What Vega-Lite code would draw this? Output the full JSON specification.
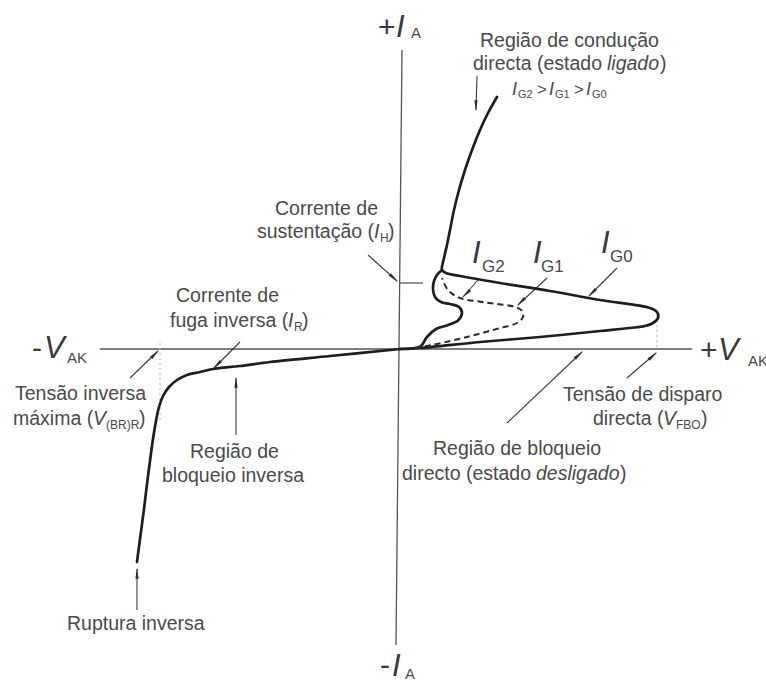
{
  "$schema": "https://vega.github.io/schema/vega-lite/v6.json",
  "width": 766,
  "height": 681,
  "padding": 0,
  "autosize": {"type": "none"},
  "background": "white",
  "config": {"view": {"stroke": null}},
  "datasets": {
    "axes": [
      {"name": "V_AK", "v": -300, "i": 0, "v2": 292, "i2": 0},
      {"name": "I_A", "v": 2, "i": 299, "v2": -4, "i2": -296}
    ],
    "guides": [
      {"name": "V(BR)R", "v": -240, "i": 6, "v2": -240, "i2": -71},
      {"name": "VFBO", "v": 257, "i": 39, "v2": 257, "i2": 0}
    ],
    "curves": [
      {"curve": "reverse", "k": 0, "v": 0, "i": 0},
      {"curve": "reverse", "k": 1, "v": -70, "i": -7},
      {"curve": "reverse", "k": 2, "v": -130, "i": -13},
      {"curve": "reverse", "k": 3, "v": -160, "i": -17},
      {"curve": "reverse", "k": 4, "v": -187, "i": -20},
      {"curve": "reverse", "k": 5, "v": -200, "i": -23},
      {"curve": "reverse", "k": 6, "v": -213, "i": -26},
      {"curve": "reverse", "k": 7, "v": -223, "i": -31},
      {"curve": "reverse", "k": 8, "v": -231, "i": -38},
      {"curve": "reverse", "k": 9, "v": -237, "i": -47},
      {"curve": "reverse", "k": 10, "v": -241, "i": -58},
      {"curve": "reverse", "k": 11, "v": -244, "i": -72},
      {"curve": "reverse", "k": 12, "v": -247, "i": -90},
      {"curve": "reverse", "k": 13, "v": -250, "i": -112},
      {"curve": "reverse", "k": 14, "v": -253, "i": -135},
      {"curve": "reverse", "k": 15, "v": -256, "i": -160},
      {"curve": "reverse", "k": 16, "v": -260, "i": -190},
      {"curve": "reverse", "k": 17, "v": -263, "i": -213},

      {"curve": "IG0", "k": 0, "v": 0, "i": 0},
      {"curve": "IG0", "k": 1, "v": 20, "i": 1},
      {"curve": "IG0", "k": 2, "v": 80, "i": 7},
      {"curve": "IG0", "k": 3, "v": 140, "i": 12},
      {"curve": "IG0", "k": 4, "v": 200, "i": 18},
      {"curve": "IG0", "k": 5, "v": 230, "i": 21},
      {"curve": "IG0", "k": 6, "v": 245, "i": 23},
      {"curve": "IG0", "k": 7, "v": 253, "i": 26},
      {"curve": "IG0", "k": 8, "v": 258, "i": 31},
      {"curve": "IG0", "k": 9, "v": 257, "i": 37},
      {"curve": "IG0", "k": 10, "v": 250, "i": 41},
      {"curve": "IG0", "k": 11, "v": 200, "i": 49},
      {"curve": "IG0", "k": 12, "v": 150, "i": 58},
      {"curve": "IG0", "k": 13, "v": 100, "i": 66},
      {"curve": "IG0", "k": 14, "v": 60, "i": 73},
      {"curve": "IG0", "k": 15, "v": 46, "i": 76},
      {"curve": "IG0", "k": 16, "v": 42, "i": 79},
      {"curve": "IG0", "k": 17, "v": 44, "i": 91},
      {"curve": "IG0", "k": 18, "v": 47, "i": 104},
      {"curve": "IG0", "k": 19, "v": 50, "i": 119},
      {"curve": "IG0", "k": 20, "v": 54, "i": 139},
      {"curve": "IG0", "k": 21, "v": 59, "i": 159},
      {"curve": "IG0", "k": 22, "v": 65, "i": 179},
      {"curve": "IG0", "k": 23, "v": 72, "i": 199},
      {"curve": "IG0", "k": 24, "v": 80, "i": 219},
      {"curve": "IG0", "k": 25, "v": 88, "i": 236},
      {"curve": "IG0", "k": 26, "v": 97, "i": 252},

      {"curve": "IG2", "k": 0, "v": 0, "i": 0},
      {"curve": "IG2", "k": 1, "v": 12, "i": 0.5},
      {"curve": "IG2", "k": 2, "v": 21, "i": 3},
      {"curve": "IG2", "k": 3, "v": 27, "i": 12},
      {"curve": "IG2", "k": 4, "v": 36, "i": 20},
      {"curve": "IG2", "k": 5, "v": 48, "i": 24},
      {"curve": "IG2", "k": 6, "v": 58, "i": 28.5},
      {"curve": "IG2", "k": 7, "v": 62, "i": 36},
      {"curve": "IG2", "k": 8, "v": 59, "i": 42},
      {"curve": "IG2", "k": 9, "v": 50, "i": 45},
      {"curve": "IG2", "k": 10, "v": 41, "i": 47},
      {"curve": "IG2", "k": 11, "v": 35, "i": 52},
      {"curve": "IG2", "k": 12, "v": 33, "i": 60},
      {"curve": "IG2", "k": 13, "v": 34, "i": 68},
      {"curve": "IG2", "k": 14, "v": 37, "i": 74},
      {"curve": "IG2", "k": 15, "v": 42, "i": 79},

      {"curve": "IG1", "k": 0, "v": 15, "i": 1},
      {"curve": "IG1", "k": 1, "v": 32, "i": 4},
      {"curve": "IG1", "k": 2, "v": 67, "i": 12},
      {"curve": "IG1", "k": 3, "v": 100, "i": 21},
      {"curve": "IG1", "k": 4, "v": 117, "i": 26},
      {"curve": "IG1", "k": 5, "v": 123, "i": 32},
      {"curve": "IG1", "k": 6, "v": 122, "i": 38},
      {"curve": "IG1", "k": 7, "v": 115, "i": 42},
      {"curve": "IG1", "k": 8, "v": 83, "i": 47},
      {"curve": "IG1", "k": 9, "v": 60, "i": 51},
      {"curve": "IG1", "k": 10, "v": 48, "i": 59},
      {"curve": "IG1", "k": 11, "v": 42, "i": 71}
    ],
    "arrows": [
      {"id": "on", "v": 77, "i": 273, "v2": 76, "i2": 239},
      {"id": "ih", "v": -32, "i": 94, "v2": -3, "i2": 68},
      {"id": "ih-level", "v": 0, "i": 66, "v2": 23, "i2": 66},
      {"id": "ir", "v": -160, "i": 7, "v2": -186, "i2": -19},
      {"id": "vbr", "v": -270, "i": -29, "v2": -242, "i2": -2},
      {"id": "rblk", "v": -164, "i": -86, "v2": -164, "i2": -29},
      {"id": "rup", "v": -263, "i": -261, "v2": -263, "i2": -220},
      {"id": "fblk", "v": 107, "i": -74, "v2": 182, "i2": -3},
      {"id": "vbo", "v": 227, "i": -29, "v2": 256, "i2": -4},
      {"id": "g2", "v": 78, "i": 69, "v2": 63, "i2": 52},
      {"id": "g1", "v": 147, "i": 71, "v2": 118, "i2": 44},
      {"id": "g0", "v": 217, "i": 81, "v2": 189, "i2": 53}
    ],
    "labels": [
      {"role": "note", "text": "Região de condução", "v": 80, "i": 302},
      {"role": "note", "text": "directa (estado ", "v": 73, "i": 279},
      {"role": "note-var", "text": "ligado", "v": 207, "i": 279},
      {"role": "note", "text": ")", "v": 260, "i": 279},

      {"role": "rel-var", "text": "I", "v": 112, "i": 254},
      {"role": "rel-sub", "text": "G2", "v": 118, "i": 251},
      {"role": "rel", "text": ">", "v": 137, "i": 254},
      {"role": "rel-var", "text": "I", "v": 149, "i": 254},
      {"role": "rel-sub", "text": "G1", "v": 155, "i": 251},
      {"role": "rel", "text": ">", "v": 174, "i": 254},
      {"role": "rel-var", "text": "I", "v": 186, "i": 254},
      {"role": "rel-sub", "text": "G0", "v": 192, "i": 251},

      {"role": "note", "text": "Corrente de", "v": -125, "i": 134},
      {"role": "note", "text": "sustentação (", "v": -143, "i": 111},
      {"role": "note-var", "text": "I", "v": -26, "i": 111},
      {"role": "note-sub", "text": "H", "v": -20, "i": 107},
      {"role": "note", "text": ")", "v": -12, "i": 111},

      {"role": "note", "text": "Corrente de", "v": -224, "i": 47},
      {"role": "note", "text": "fuga inversa (", "v": -230, "i": 22},
      {"role": "note-var", "text": "I", "v": -112, "i": 22},
      {"role": "note-sub", "text": "R", "v": -106, "i": 18},
      {"role": "note", "text": ")", "v": -98, "i": 22},

      {"role": "note", "text": "Tensão inversa", "v": -385, "i": -51},
      {"role": "note", "text": "máxima (", "v": -387, "i": -76},
      {"role": "note-var", "text": "V", "v": -307, "i": -76},
      {"role": "note-sub", "text": "(BR)R", "v": -294, "i": -80},
      {"role": "note", "text": ")", "v": -261, "i": -76},

      {"role": "note", "text": "Região de", "v": -210, "i": -109},
      {"role": "note", "text": "bloqueio inversa", "v": -238, "i": -133},
      {"role": "note", "text": "Ruptura inversa", "v": -333, "i": -281},

      {"role": "note", "text": "Tensão de disparo", "v": 163, "i": -52},
      {"role": "note", "text": "directa (", "v": 193, "i": -76},
      {"role": "note-var", "text": "V", "v": 263, "i": -76},
      {"role": "note-sub", "text": "FBO", "v": 276, "i": -80},
      {"role": "note", "text": ")", "v": 301, "i": -76},

      {"role": "note", "text": "Região de bloqueio", "v": 33, "i": -106},
      {"role": "note", "text": "directo (estado ", "v": 2, "i": -131},
      {"role": "note-var", "text": "desligado", "v": 136, "i": -131},
      {"role": "note", "text": ")", "v": 220, "i": -131},

      {"role": "gate-var", "text": "I", "v": 72, "i": 86},
      {"role": "gate-sub", "text": "G2", "v": 82, "i": 77},
      {"role": "gate-var", "text": "I", "v": 133, "i": 86},
      {"role": "gate-sub", "text": "G1", "v": 141, "i": 77},
      {"role": "gate-var", "text": "I", "v": 201, "i": 96},
      {"role": "gate-sub", "text": "G0", "v": 210, "i": 87},

      {"role": "axis-sign", "text": "+", "v": -22, "i": 312},
      {"role": "gate-var", "text": "I", "v": -4, "i": 312},
      {"role": "axis-sub", "text": "A", "v": 11, "i": 311},
      {"role": "axis-sign", "text": "-", "v": -20, "i": -326},
      {"role": "gate-var", "text": "I", "v": -8, "i": -327},
      {"role": "axis-sub", "text": "A", "v": 5, "i": -330},
      {"role": "axis-sign", "text": "-", "v": -368, "i": -9},
      {"role": "gate-var", "text": "V", "v": -356, "i": -9},
      {"role": "axis-sub", "text": "AK", "v": -333, "i": -14},
      {"role": "axis-sign", "text": "+", "v": 300, "i": -11},
      {"role": "gate-var", "text": "V", "v": 318, "i": -11},
      {"role": "axis-sub", "text": "AK", "v": 348, "i": -17}
    ]
  },
  "encoding": {
    "x": {"field": "v", "type": "quantitative", "scale": {"domain": [-400, 366], "nice": false, "zero": false}, "axis": null},
    "y": {"field": "i", "type": "quantitative", "scale": {"domain": [-332, 349], "nice": false, "zero": false}, "axis": null}
  },
  "layer": [
    {
      "data": {"name": "axes"},
      "mark": {"type": "rule", "color": "#555555", "strokeWidth": 1.3},
      "encoding": {"x2": {"field": "v2"}, "y2": {"field": "i2"}}
    },
    {
      "data": {"name": "guides"},
      "mark": {"type": "rule", "color": "#bdbdbd", "strokeWidth": 1.2, "strokeDash": [2, 3]},
      "encoding": {"x2": {"field": "v2"}, "y2": {"field": "i2"}}
    },
    {
      "data": {"name": "arrows"},
      "mark": {"type": "rule", "color": "#3a3a3a", "strokeWidth": 1.1},
      "encoding": {"x2": {"field": "v2"}, "y2": {"field": "i2"}}
    },
    {
      "data": {"name": "curves"},
      "transform": [{"filter": {"field": "curve", "oneOf": ["reverse", "IG0", "IG2"]}}],
      "mark": {"type": "line", "interpolate": "catmull-rom", "color": "#1e1e1e", "strokeWidth": 2.7, "strokeCap": "round", "strokeJoin": "round"},
      "encoding": {"detail": {"field": "curve"}, "order": {"field": "k", "type": "quantitative"}}
    },
    {
      "data": {"name": "curves"},
      "transform": [{"filter": {"field": "curve", "equal": "IG1"}}],
      "mark": {"type": "line", "interpolate": "catmull-rom", "color": "#2a2a2a", "strokeWidth": 2, "strokeDash": [6, 4]},
      "encoding": {"order": {"field": "k", "type": "quantitative"}}
    },
    {
      "data": {"name": "arrows"},
      "transform": [{"filter": {"field": "id", "oneOf": ["on"]}}],
      "mark": {"type": "point", "shape": "wedge", "filled": true, "size": 170, "angle": 180, "yOffset": -6, "color": "#2e2e2e", "opacity": 1},
      "encoding": {"x": {"field": "v2", "type": "quantitative", "axis": null}, "y": {"field": "i2", "type": "quantitative", "axis": null}}
    },
    {
      "data": {"name": "arrows"},
      "transform": [{"filter": {"field": "id", "oneOf": ["ih"]}}],
      "mark": {"type": "point", "shape": "wedge", "filled": true, "size": 170, "angle": 132, "xOffset": -4.4, "yOffset": -4, "color": "#2e2e2e", "opacity": 1},
      "encoding": {"x": {"field": "v2", "type": "quantitative", "axis": null}, "y": {"field": "i2", "type": "quantitative", "axis": null}}
    },
    {
      "data": {"name": "arrows"},
      "transform": [{"filter": {"field": "id", "oneOf": ["ir", "g2", "g1", "g0"]}}],
      "mark": {"type": "point", "shape": "wedge", "filled": true, "size": 170, "angle": 225, "xOffset": 4.2, "yOffset": -4.2, "color": "#2e2e2e", "opacity": 1},
      "encoding": {"x": {"field": "v2", "type": "quantitative", "axis": null}, "y": {"field": "i2", "type": "quantitative", "axis": null}}
    },
    {
      "data": {"name": "arrows"},
      "transform": [{"filter": {"field": "id", "oneOf": ["vbr"]}}],
      "mark": {"type": "point", "shape": "wedge", "filled": true, "size": 170, "angle": 45, "xOffset": -4.2, "yOffset": 4.2, "color": "#2e2e2e", "opacity": 1},
      "encoding": {"x": {"field": "v2", "type": "quantitative", "axis": null}, "y": {"field": "i2", "type": "quantitative", "axis": null}}
    },
    {
      "data": {"name": "arrows"},
      "transform": [{"filter": {"field": "id", "oneOf": ["rblk", "rup"]}}],
      "mark": {"type": "point", "shape": "wedge", "filled": true, "size": 170, "angle": 0, "yOffset": 6, "color": "#2e2e2e", "opacity": 1},
      "encoding": {"x": {"field": "v2", "type": "quantitative", "axis": null}, "y": {"field": "i2", "type": "quantitative", "axis": null}}
    },
    {
      "data": {"name": "arrows"},
      "transform": [{"filter": {"field": "id", "oneOf": ["fblk", "vbo"]}}],
      "mark": {"type": "point", "shape": "wedge", "filled": true, "size": 170, "angle": 48, "xOffset": -4.4, "yOffset": 4, "color": "#2e2e2e", "opacity": 1},
      "encoding": {"x": {"field": "v2", "type": "quantitative", "axis": null}, "y": {"field": "i2", "type": "quantitative", "axis": null}}
    },
    {
      "data": {"name": "labels"},
      "transform": [{"filter": {"field": "role", "equal": "note"}}],
      "mark": {"type": "text", "align": "left", "baseline": "alphabetic", "font": "Liberation Sans", "fontSize": 19.5, "color": "#4a4a4a"},
      "encoding": {"text": {"field": "text"}}
    },
    {
      "data": {"name": "labels"},
      "transform": [{"filter": {"field": "role", "equal": "note-var"}}],
      "mark": {"type": "text", "align": "left", "baseline": "alphabetic", "font": "Liberation Sans", "fontSize": 19.5, "fontStyle": "italic", "color": "#4a4a4a"},
      "encoding": {"text": {"field": "text"}}
    },
    {
      "data": {"name": "labels"},
      "transform": [{"filter": {"field": "role", "equal": "note-sub"}}],
      "mark": {"type": "text", "align": "left", "baseline": "alphabetic", "font": "Liberation Sans", "fontSize": 12, "color": "#4a4a4a"},
      "encoding": {"text": {"field": "text"}}
    },
    {
      "data": {"name": "labels"},
      "transform": [{"filter": {"field": "role", "equal": "rel-sub"}}],
      "mark": {"type": "text", "align": "left", "baseline": "alphabetic", "font": "Liberation Sans", "fontSize": 11, "color": "#4a4a4a"},
      "encoding": {"text": {"field": "text"}}
    },
    {
      "data": {"name": "labels"},
      "transform": [{"filter": {"field": "role", "equal": "rel"}}],
      "mark": {"type": "text", "align": "left", "baseline": "alphabetic", "font": "Liberation Sans", "fontSize": 17, "color": "#4a4a4a"},
      "encoding": {"text": {"field": "text"}}
    },
    {
      "data": {"name": "labels"},
      "transform": [{"filter": {"field": "role", "equal": "rel-var"}}],
      "mark": {"type": "text", "align": "left", "baseline": "alphabetic", "font": "Liberation Sans", "fontSize": 18, "fontStyle": "italic", "color": "#4a4a4a"},
      "encoding": {"text": {"field": "text"}}
    },
    {
      "data": {"name": "labels"},
      "transform": [{"filter": {"field": "role", "equal": "gate-var"}}],
      "mark": {"type": "text", "align": "left", "baseline": "alphabetic", "font": "Liberation Sans", "fontSize": 31, "fontStyle": "italic", "color": "#3a3a3a"},
      "encoding": {"text": {"field": "text"}}
    },
    {
      "data": {"name": "labels"},
      "transform": [{"filter": {"field": "role", "equal": "gate-sub"}}],
      "mark": {"type": "text", "align": "left", "baseline": "alphabetic", "font": "Liberation Sans", "fontSize": 17, "color": "#4a4a4a"},
      "encoding": {"text": {"field": "text"}}
    },
    {
      "data": {"name": "labels"},
      "transform": [{"filter": {"field": "role", "equal": "axis-sign"}}],
      "mark": {"type": "text", "align": "left", "baseline": "alphabetic", "font": "Liberation Sans", "fontSize": 30, "color": "#3a3a3a"},
      "encoding": {"text": {"field": "text"}}
    },
    {
      "data": {"name": "labels"},
      "transform": [{"filter": {"field": "role", "equal": "axis-sub"}}],
      "mark": {"type": "text", "align": "left", "baseline": "alphabetic", "font": "Liberation Sans", "fontSize": 15, "color": "#4a4a4a"},
      "encoding": {"text": {"field": "text"}}
    }
  ]
}
